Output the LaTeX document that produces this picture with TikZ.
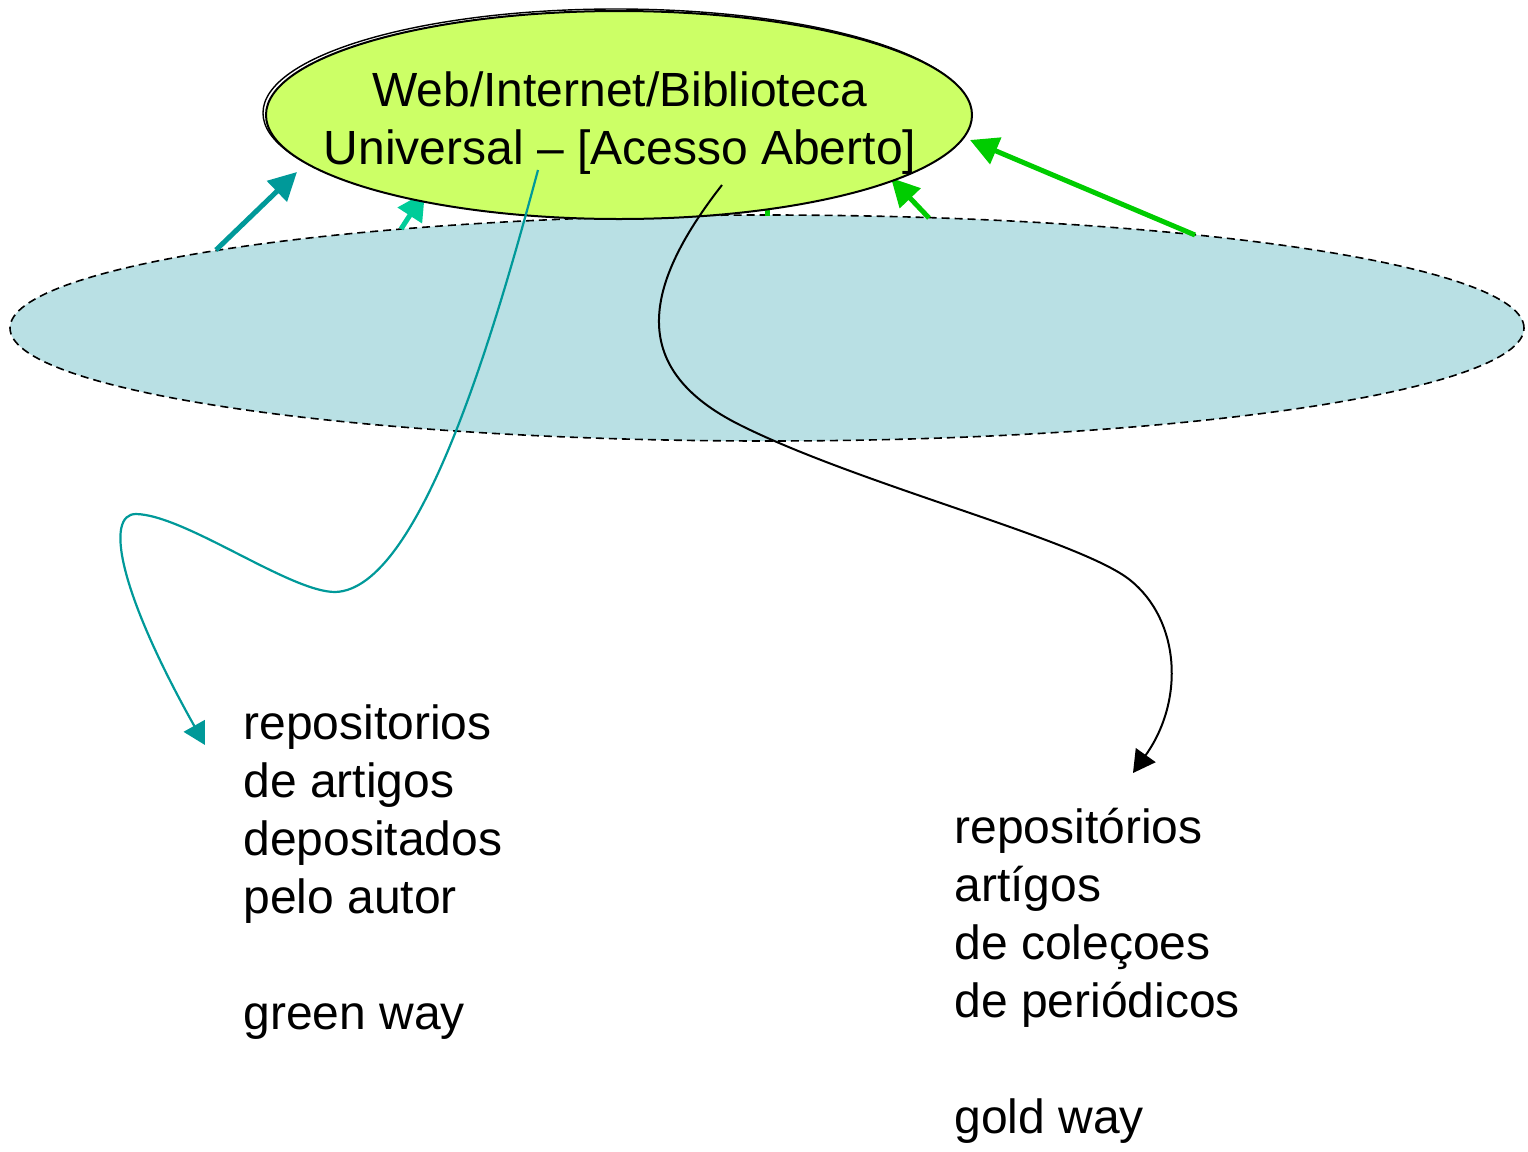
\documentclass[tikz,border=0pt]{standalone}
\usepackage{fontspec}
\setmainfont{Liberation Sans}
\usetikzlibrary{arrows.meta,shapes.geometric}
\definecolor{limefill}{HTML}{CCFF66}
\definecolor{layerfill}{RGB}{185,224,228}
\definecolor{tealc}{HTML}{009999}
\definecolor{seac}{HTML}{00CC99}
\definecolor{greenc}{HTML}{00CC00}
\begin{document}
\begin{tikzpicture}[x=0.5pt,y=-0.5pt,
  thickarrow/.style={line width=2.5pt,-{Triangle[length=14pt,width=14pt]}},
  curvearrow/.style={line width=1.1pt,-{Triangle[length=11pt,width=12pt]}},
  bigtext/.style={font=\fontsize{24pt}{29pt}\selectfont, inner sep=0pt},
  bodytext/.style={bigtext, align=left, anchor=base west}]
\useasboundingbox (0,0) rectangle (1528,1152);
% lower layer
\node[ellipse, draw, dash pattern=on 4pt off 2.5pt, line width=0.8pt, fill=layerfill,
      minimum width=757pt, minimum height=113pt, inner sep=0pt] (layer) at (767,328) {};
% thick arrows: start points on the layer border
\coordinate (s1) at (216,250);
\coordinate (s2) at (401,229);
\coordinate (s3) at (767,216);
\coordinate (s4) at (929,218);
\coordinate (s5) at (1195,235);
\coordinate (e1) at (297,172);
\coordinate (e2) at (425,192);
\coordinate (e3) at (767,150);
\coordinate (e4) at (891,178);
\coordinate (e5) at (970,140);
\draw[thickarrow, tealc] (s1) -- (e1);
\draw[thickarrow, seac] (s2) -- (e2);
\draw[thickarrow, greenc] (s3) -- (e3);
\draw[thickarrow, greenc] (s4) -- (e4);
\draw[thickarrow, greenc] (s5) -- (e5);
% upper ellipse
\node[ellipse, draw, line width=0.7pt, minimum width=353pt, minimum height=104pt, inner sep=0pt] (webshadow) at (616,113) {};
\node[ellipse, draw, line width=1pt, fill=limefill, minimum width=353pt, minimum height=104pt, inner sep=0pt] (web) at (619,115) {};
\node[bigtext, align=center, anchor=base] (title) at (620,164) {Web/Internet/Biblioteca\\Universal – [Acesso Aberto]};
% texts
\node[bodytext] (greenway) at (243,1029) {repositorios\\de artigos\\depositados\\pelo autor\\[29pt]green way};
\node[bodytext] (goldway) at (954,1133) {repositórios\\artígos\\de coleçoes\\de periódicos\\[29pt]gold way};
% curved connectors
\coordinate (gs) at (538,170);
\coordinate (ge) at (205,745);
\coordinate (ks) at (722,185);
\coordinate (ke) at (1133,773);
\draw[curvearrow, tealc] (gs) .. controls (495,330) and (420,590) .. (335,592)
  .. controls (290,592) and (185,515) .. (136,514)
  .. controls (105,514) and (118,590) .. (ge);
\draw[curvearrow, black, line width=1pt] (ks) .. controls (640,290) and (630,370) .. (740,425)
  .. controls (860,485) and (1080,540) .. (1130,580)
  .. controls (1180,620) and (1185,700) .. (ke);
\end{tikzpicture}
\end{document}
